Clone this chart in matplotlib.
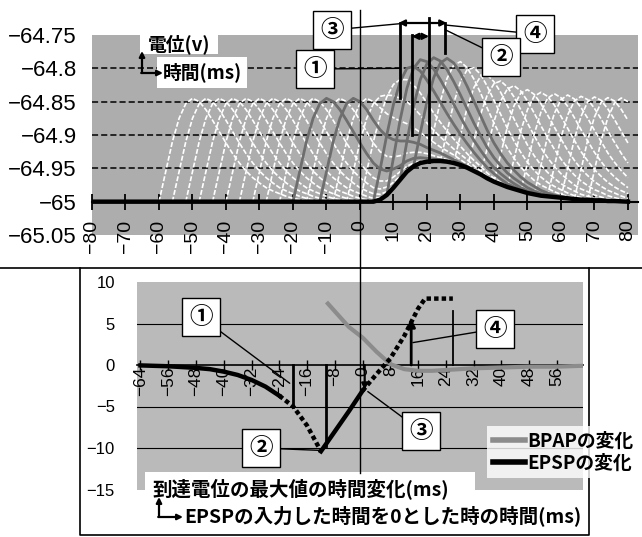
import numpy as np
import matplotlib.pyplot as plt
from matplotlib.patches import Rectangle
from matplotlib.lines import Line2D

plt.rcParams['font.family'] = ['Liberation Sans', 'DejaVu Sans']
JP = ['Noto Sans CJK JP', 'DejaVu Sans']

# ---- upper chart: waveforms at 2 ms steps (mV above -65) ----
step = 2
bpap_v = [0, .045, .09, .125, .147, .155, .150, .138, .122, .105, .088, .072, .058,
          .046, .036, .028, .021, .016, .012, .008, .005, .003, .002, .001, 0]
epsp_v = [0, 0, 0, .003, .010, .021, .033, .045, .053, .058, .060, .061, .061, .060,
          .058, .055, .051, .046, .041, .035, .030, .026, .022, .019, .016, .013, .011,
          .009, .008, .007, .006, .005, .004, .003, .003, .002, .002, .001, .001, .0005, 0]
gray_onsets = [-20, -12, 4, 8, 12, 16]
white_onsets = [o for o in range(-60, 72, 4) if o not in gray_onsets]
top_yticks = [-65.05, -65, -64.95, -64.9, -64.85, -64.8, -64.75]
top_xticks = list(range(-80, 81, 10))

# ---- lower chart: peak-time change (ms) ----
epsp_chg_x = [-64, -60, -56, -52, -48, -44, -40, -36, -32, -28, -24, -20, -16, -12,
              -8, -4, 0, 4, 8, 12, 16, 18, 20, 22, 24, 26]
epsp_chg_y = [-0.05, -0.1, -0.15, -0.25, -0.35, -0.5, -0.8, -1.2, -1.8, -2.6, -3.7, -5.0,
              -7.3, -10.4, -8.0, -5.6, -3.1, -1.1, 0.8, 3.5, 6.8, 8.0, 8.0, 8.0, 8.0, 8.0]
bpap_chg_x = [-10, -4, 0, 4, 8, 12, 16, 20, 24, 28, 32, 40, 48, 56, 63]
bpap_chg_y = [7.4, 4.6, 3.3, 1.6, 0.1, -0.5, -0.7, -0.7, -0.6, -0.5, -0.4, -0.3, -0.2, -0.2, -0.1]
low_yticks = [-15, -10, -5, 0, 5, 10]
low_xticks = list(range(-64, 57, 8))


def mlabel(v):
    return f"{v:g}".replace('-', '\u2212')


def epsp_at(t):
    if 0 <= t <= 80:
        return epsp_v[t // step]
    return 0.0


def summed(onset):
    xs, ys = [], []
    for i, b in enumerate(bpap_v):
        t = onset + i * step
        if t > 80:
            break
        xs.append(t)
        ys.append(-65 + b + epsp_at(t))
    return xs, ys


fig = plt.figure(figsize=(6.42, 5.37), dpi=100)
W, H = 642, 537


def rect(l, t, r, b):
    return [l / W, 1 - b / H, (r - l) / W, (b - t) / H]


# ================= upper chart =================
ax = fig.add_axes(rect(92, 35, 638, 235))
ax.set_facecolor('#adadad')
ax.set_xlim(-80, 83)
ax.set_ylim(-65.05, -64.75)
for s in ['top', 'right', 'left']:
    ax.spines[s].set_visible(False)
ax.spines['bottom'].set_position(('data', -65))
ax.spines['bottom'].set_linewidth(1.5)
for g in [-64.95, -64.9, -64.85, -64.8]:
    ax.axhline(g, color='black', lw=1.1, ls=(0, (4, 2)), zorder=1)

for o in white_onsets:
    xs, ys = summed(o)
    ax.plot(xs, ys, color='white', lw=1.2, ls=(0, (3, 1.2)), zorder=2)
for o in gray_onsets:
    xs, ys = summed(o)
    ax.plot(xs, ys, color='#6e6e6e', lw=2, zorder=3)
et = [-80] + [i * step for i in range(len(epsp_v))]
ev = [-65] + [-65 + v for v in epsp_v]
ax.plot(et, ev, color='black', lw=3.2, zorder=4)

ax.set_xticks(top_xticks)
ax.set_xticklabels([mlabel(v) for v in top_xticks], rotation=90, fontsize=14)
ax.tick_params(axis='x', direction='inout', length=11, width=1.3, pad=7.5)
ax.set_yticks(top_yticks)
ax.set_yticklabels([mlabel(v) for v in top_yticks], fontsize=16)
ax.tick_params(axis='y', length=0, pad=11)

# peak-time markers on the upper chart
for x0, y0, y1 in [(12, -64.732, -64.845), (15.5, -64.75, -64.90),
                   (20.6, -64.724, -64.94), (25.4, -64.732, -64.777)]:
    ax.plot([x0, x0], [y0, y1], color='black', lw=2, clip_on=False, zorder=6)
ax.annotate('', xy=(11.5, -64.732), xytext=(25.9, -64.732), xycoords='data',
            arrowprops=dict(arrowstyle='<|-|>', color='black', lw=1.6, mutation_scale=9,
                            shrinkA=0, shrinkB=0), annotation_clip=False, zorder=6)
ax.annotate('', xy=(15.5, -64.752), xytext=(20.6, -64.752), xycoords='data',
            arrowprops=dict(arrowstyle='<|-|>', color='black', lw=1.6, mutation_scale=9,
                            shrinkA=0, shrinkB=0), annotation_clip=False, zorder=6)

# ================= lower chart =================
ax2 = fig.add_axes(rect(137, 282, 583, 489.5))
ax2.set_facecolor('#bababa')
ax2.set_xlim(-65, 63.5)
ax2.set_ylim(-15, 10)
for s in ['top', 'right', 'left']:
    ax2.spines[s].set_visible(False)
ax2.spines['bottom'].set_position(('data', 0))
ax2.spines['bottom'].set_linewidth(1.2)
for g in [-10, -5, 5]:
    ax2.axhline(g, color='black', lw=0.8, zorder=1)

ax2.plot(bpap_chg_x, bpap_chg_y, color='#8c8c8c', lw=3, zorder=3)
ex = np.array(epsp_chg_x)
ey = np.array(epsp_chg_y)
segs = [((-64, -24), '-'), ((-24, -12), (0, (1, 0.7))), ((-12, 0), '-'), ((0, 26), (0, (1, 0.7)))]
for (a, b), ls in segs:
    m = (ex >= a) & (ex <= b)
    ax2.plot(ex[m], ey[m], color='black', lw=3.2, ls=ls, zorder=4)

ax2.set_xticks(low_xticks)
ax2.set_xticklabels([mlabel(v) for v in low_xticks], rotation=90, fontsize=12.5)
ax2.tick_params(axis='x', direction='inout', length=7, width=1, pad=-2.5)
ax2.set_yticks(low_yticks)
ax2.set_yticklabels([mlabel(v) for v in low_yticks], fontsize=12)
ax2.tick_params(axis='y', length=0, pad=16)

# markers on the lower chart
for x0, y1 in [(-20, -5.0), (-10.5, -9.8)]:
    ax2.plot([x0, x0], [0, y1], color='black', lw=2, zorder=6)
ax2.plot([26, 26], [0, 6.5], color='black', lw=1.3, zorder=6)
ax2.annotate('', xy=(14, 5.6), xytext=(14, 0),
             arrowprops=dict(arrowstyle='-|>', color='black', lw=2, mutation_scale=12,
                             shrinkA=0, shrinkB=0), zorder=6)
ax2.annotate('', xy=(0.6, -3.0), xytext=(0.6, 0),
             arrowprops=dict(arrowstyle='-|>', color='black', lw=1.6, mutation_scale=9,
                             shrinkA=0, shrinkB=0), zorder=6)

handles = [Line2D([], [], color='#8c8c8c', lw=4), Line2D([], [], color='black', lw=4)]
leg = fig.legend(handles, ['BPAPの変化', 'EPSPの変化'], loc='upper left',
                 bbox_to_anchor=(478 / W, 1 - 417 / H), frameon=True, fancybox=False,
                 handlelength=1.7, handletextpad=0.15, borderpad=0.3, labelspacing=0.15,
                 prop=dict(family=JP, weight='bold', size=13.5))
leg.get_frame().set_edgecolor('none')
leg.get_frame().set_facecolor('white')
leg.set_zorder(12)

# ================= overlay (frame lines, labels, callouts) =================
ov = fig.add_axes([0, 0, 1, 1], zorder=10)
ov.set_xlim(0, W)
ov.set_ylim(H, 0)
ov.axis('off')
ov.patch.set_alpha(0)

ov.plot([0, W], [268, 268], color='black', lw=1.2)
ov.plot([80, 80, 589, 589], [268, 535, 535, 268], color='black', lw=1.2)
ov.plot([360, 360], [10, 473], color='black', lw=1)

# axis captions, upper chart
ov.add_patch(Rectangle((140, 32), 78, 22, fc='white', ec='none'))
ov.add_patch(Rectangle((157, 57), 90, 31, fc='white', ec='none'))
ov.text(148, 44, '電位(v)', family=JP, weight='bold', fontsize=13.5, va='center')
ov.text(163, 72, '時間(ms)', family=JP, weight='bold', fontsize=13.5, va='center')
ov.annotate('', xy=(142, 51), xytext=(142, 73),
            arrowprops=dict(arrowstyle='-|>', color='black', lw=1.6, mutation_scale=8, shrinkA=0, shrinkB=0))
ov.annotate('', xy=(163, 73), xytext=(141.2, 73),
            arrowprops=dict(arrowstyle='-|>', color='black', lw=1.6, mutation_scale=8, shrinkA=0, shrinkB=0))

# axis captions, lower chart
ov.add_patch(Rectangle((145, 472), 330, 30, fc='white', ec='none'))
ov.text(152, 489, '到達電位の最大値の時間変化(ms)', family=JP, weight='bold', fontsize=14, va='center')
ov.text(184, 516, 'EPSPの入力した時間を0とした時の時間(ms)', family=JP, weight='bold', fontsize=14, va='center')
ov.annotate('', xy=(159, 497), xytext=(159, 517),
            arrowprops=dict(arrowstyle='-|>', color='black', lw=1.6, mutation_scale=8, shrinkA=0, shrinkB=0))
ov.annotate('', xy=(183, 517), xytext=(158.2, 517),
            arrowprops=dict(arrowstyle='-|>', color='black', lw=1.6, mutation_scale=8, shrinkA=0, shrinkB=0))

box = dict(boxstyle='square,pad=0.3', fc='white', ec='black', lw=1)


def callout(label, bx, by, target, tax):
    ov.annotate('', xy=target, xycoords=tax.transData, xytext=(bx, by), textcoords='data',
                arrowprops=dict(arrowstyle='-', color='black', lw=1, shrinkA=0, shrinkB=0))
    ov.text(bx, by, label, family=JP, weight='bold', fontsize=17, ha='center', va='center', bbox=box)


# upper callouts
callout('③', 332, 30, (12, -64.733), ax)
callout('①', 315, 69, (12, -64.80), ax)
callout('④', 535, 34, (25.4, -64.735), ax)
callout('②', 501, 57, (25.4, -64.742), ax)
# lower callouts
callout('①', 201, 317, (-21, -2.2), ax2)
callout('②', 261, 448, (-11.5, -10.3), ax2)
callout('③', 421, 431, (1.5, -3.2), ax2)
callout('④', 495, 329, (14.5, 2.7), ax2)

fig.savefig('out.png', dpi=100)
